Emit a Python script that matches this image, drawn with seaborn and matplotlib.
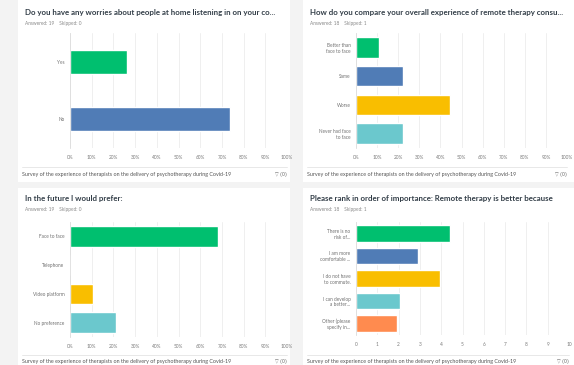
import pandas as pd
import seaborn as sns
import matplotlib.pyplot as plt
from matplotlib.patches import Rectangle
from matplotlib.lines import Line2D

# data
q1_title = "Do you have any worries about people at home listening in on your co..."
q1_answered = "Answered: 19    Skipped: 0"
q1_labels = ["Yes", "No"]
q1_values = [26.32, 73.68]

q2_title = "How do you compare your overall experience of remote therapy consu..."
q2_answered = "Answered: 18    Skipped: 1"
q2_labels = ["Better than\nface to face", "Same", "Worse", "Never had face\nto face"]
q2_values = [11.11, 22.22, 44.44, 22.22]

q3_title = "In the future I would prefer:"
q3_answered = "Answered: 19    Skipped: 0"
q3_labels = ["Face to face", "Telephone", "Video platform", "No preference"]
q3_values = [68.42, 0.0, 10.53, 21.05]

q4_title = "Please rank in order of importance: Remote therapy is better because"
q4_answered = "Answered: 18    Skipped: 1"
q4_labels = ["There is no\nrisk of...", "I am more\ncomfortable ...", "I do not have\nto commute.",
             "I can develop\na better...", "Other (please\nspecify in..."]
q4_values = [4.43, 2.93, 3.93, 2.08, 1.92]

pct_ticks = [0, 10, 20, 30, 40, 50, 60, 70, 80, 90, 100]
pct_labels = ["0%", "10%", "20%", "30%", "40%", "50%", "60%", "70%", "80%", "90%", "100%"]
rank_ticks = [0, 1, 2, 3, 4, 5, 6, 7, 8, 9, 10]

footer = "Survey of the experience of therapists on the delivery of psychotherapy during Covid-19"
colors = ["#00bf6f", "#507cb6", "#f9be00", "#6bc8cd", "#ff8b4f"]

W, H = 574, 365
sns.set_theme(style="white")
plt.rcParams['font.family'] = ['Lato', 'DejaVu Sans']
fig = plt.figure(figsize=(W / 100, H / 100), dpi=100, facecolor="#f3f3f3")


def fx(x):
    return x / W


def fy(y):
    return 1 - y / H


# white cards
for (x0, y0, x1, y1) in [(18, 0, 290, 182), (303, 0, 574, 182),
                         (18, 188, 290, 365), (303, 188, 574, 365)]:
    fig.patches.append(Rectangle((fx(x0), fy(y1)), fx(x1 - x0), (y1 - y0) / H,
                                 transform=fig.transFigure, facecolor="white",
                                 edgecolor="none", zorder=-5))


def panel(labels, values, box, ticks, ticklabels, bar_h, title, answered, tx, ty, sep_y):
    x0, y0, x1, y1 = box
    ax = fig.add_axes([fx(x0), fy(y1), fx(x1 - x0), (y1 - y0) / H])
    ax.set_zorder(2)
    df = pd.DataFrame({"label": labels, "value": values})
    sns.barplot(data=df, y="label", x="value", hue="label", orient="h",
                palette=colors[:len(labels)], width=bar_h, legend=False,
                saturation=1, ax=ax)
    ax.set_xlim(ticks[0], ticks[-1])
    ax.set_ylim(len(labels) - 0.5, -0.5)
    ax.set_xticks(ticks)
    ax.set_xticklabels(ticklabels)
    ax.tick_params(axis="x", labelsize=3.4, colors="#7a7a7a", length=0, pad=5)
    ax.tick_params(axis="y", labelsize=3.4, colors="#707070", length=0, pad=4)
    for lab in ax.get_yticklabels():
        lab.set_horizontalalignment("right")
        lab.set_multialignment("right")
    ax.set_xlabel("")
    ax.set_ylabel("")
    ax.xaxis.grid(True, color="#ececec", linewidth=0.6)
    ax.set_axisbelow(True)
    for s in ["top", "right", "bottom"]:
        ax.spines[s].set_visible(False)
    ax.spines["left"].set_color("#dddddd")
    ax.spines["left"].set_linewidth(0.6)
    fig.text(fx(tx), fy(ty), title, fontsize=5.7, fontweight="bold",
             color="#333e48", va="center", ha="left")
    fig.text(fx(tx), fy(ty + 11), answered, fontsize=3.4, color="#888888",
             va="center", ha="left")
    # footer: separator, caption and filter marker
    fig.lines.append(Line2D([fx(tx - 3), fx(x1)], [fy(sep_y), fy(sep_y)],
                            transform=fig.transFigure, color="#e4e4e4", linewidth=0.6))
    fig.text(fx(tx - 3), fy(sep_y + 7), footer, fontsize=3.9, color="#555555",
             va="center", ha="left")
    fig.text(fx(x1), fy(sep_y + 7), "\u25bd (0)", fontsize=3.4, color="#666666",
             va="center", ha="right", family=["DejaVu Sans"])
    return ax


panel(q1_labels, q1_values, (70, 33, 287, 148), pct_ticks, pct_labels, 0.42,
      q1_title, q1_answered, 25, 12, 167)
panel(q2_labels, q2_values, (356, 33, 567, 148), pct_ticks, pct_labels, 0.71,
      q2_title, q2_answered, 310, 12, 167)
panel(q3_labels, q3_values, (70, 222, 287, 337), pct_ticks, pct_labels, 0.72,
      q3_title, q3_answered, 25, 198, 355)
panel(q4_labels, q4_values, (356, 222, 569, 335), rank_ticks, [str(t) for t in rank_ticks], 0.73,
      q4_title, q4_answered, 310, 198, 355)

fig.savefig("out.png", dpi=100, facecolor=fig.get_facecolor())
